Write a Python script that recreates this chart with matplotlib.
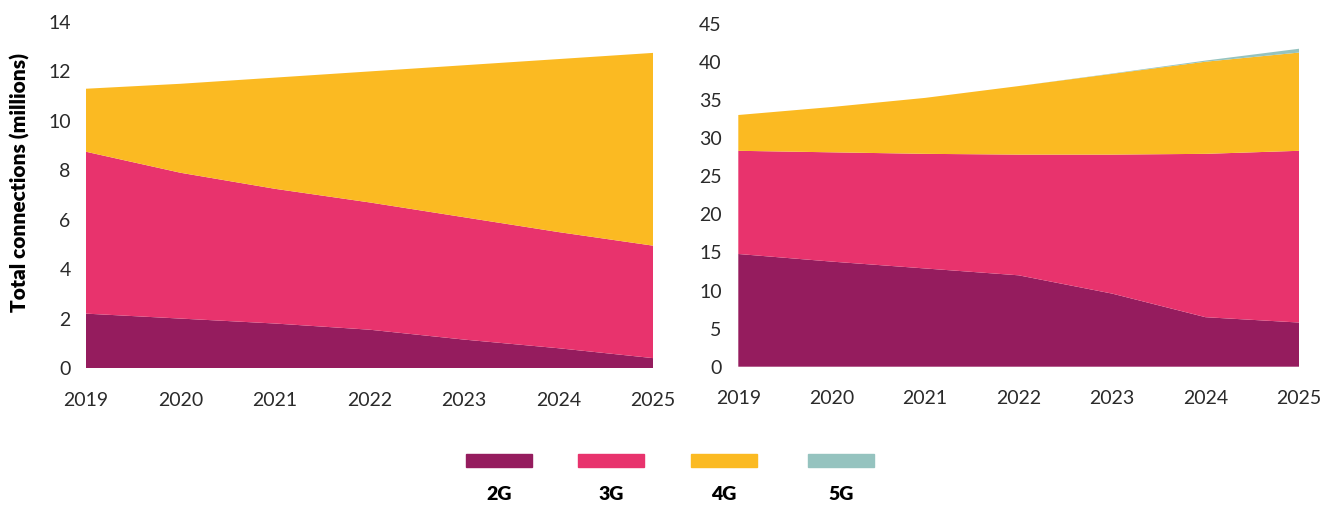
import matplotlib
matplotlib.use("Agg")
import matplotlib.pyplot as plt
from matplotlib.patches import Rectangle

years = [2019, 2020, 2021, 2022, 2023, 2024, 2025]
series_names = ["2G", "3G", "4G", "5G"]
colors = ["#951C5E", "#E8336D", "#FBBA22", "#95C3BF"]

# Left panel (millions)
left_2g = [2.2, 2.0, 1.8, 1.55, 1.15, 0.8, 0.4]
left_3g = [6.55, 5.9, 5.45, 5.15, 4.95, 4.7, 4.55]
left_4g = [2.55, 3.6, 4.5, 5.3, 6.15, 7.0, 7.8]
left_5g = [0, 0, 0, 0, 0, 0, 0]

# Right panel (millions)
right_2g = [14.8, 13.8, 12.9, 12.0, 9.6, 6.5, 5.8]
right_3g = [13.55, 14.35, 15.05, 15.85, 18.25, 21.45, 22.55]
right_4g = [4.7, 5.95, 7.35, 9.0, 10.6, 12.1, 12.9]
right_5g = [0, 0, 0, 0, 0.05, 0.15, 0.5]

left_yticks = [0, 2, 4, 6, 8, 10, 12, 14]
right_yticks = [0, 5, 10, 15, 20, 25, 30, 35, 40, 45]

W, H = 1335, 505
fig = plt.figure(figsize=(W / 100, H / 100), dpi=100)

FAM = ["Lato", "DejaVu Sans"]

def make_panel(rect, data, ymax, yticks, ypad, xpad):
    ax = fig.add_axes(rect)
    ax.stackplot(years, *data, colors=colors, linewidth=0)
    ax.set_xlim(2019, 2025)
    ax.set_ylim(0, ymax)
    ax.set_xticks(years)
    ax.set_yticks(yticks)
    for s in ax.spines.values():
        s.set_visible(False)
    ax.tick_params(axis="both", length=0, colors="#2a2a2a", labelsize=14)
    ax.tick_params(axis="y", pad=ypad)
    ax.tick_params(axis="x", pad=xpad)
    for lab in ax.get_xticklabels() + ax.get_yticklabels():
        lab.set_fontfamily(FAM)
        lab.set_fontweight("normal")
    return ax

axL = make_panel([86 / W, (H - 368) / H, (653 - 86) / W, (368 - 22) / H],
                 [left_2g, left_3g, left_4g, left_5g], 14, left_yticks, 11, 17)
axR = make_panel([738.3 / W, (H - 366.7) / H, (1299 - 738.3) / W, (366.7 - 24) / H],
                 [right_2g, right_3g, right_4g, right_5g], 45, right_yticks, 12, 17)

fig.text(20 / W, 1 - 183 / H, "Total connections (millions)", rotation=90,
         ha="center", va="center", fontsize=15, fontweight="heavy",
         family=FAM, color="black")

patch_x = [466, 578, 691, 808]
for x0, c, name in zip(patch_x, colors, series_names):
    fig.patches.append(Rectangle((x0 / W, 1 - 467 / H), 66 / W, 13 / H,
                                 transform=fig.transFigure, color=c))
    fig.text((x0 + 33) / W, 1 - 494 / H, name, ha="center", va="center",
             fontsize=14, fontweight="heavy", family=FAM, color="black")

fig.savefig("out.png", dpi=100)
